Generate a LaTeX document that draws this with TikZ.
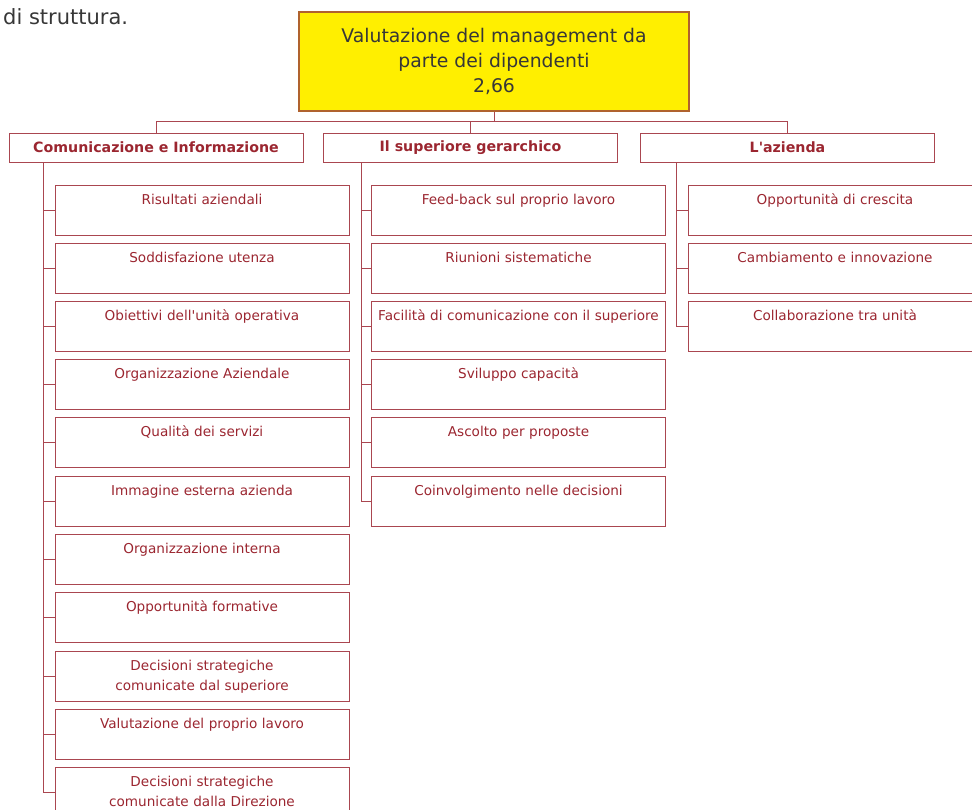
\documentclass[tikz,border=0pt]{standalone}
\usepackage{fontspec}
\setmainfont{DejaVu Sans}
\usepackage{xcolor}
\usetikzlibrary{positioning}

\definecolor{boxred}{RGB}{170,70,80}
\definecolor{textred}{RGB}{155,38,48}
\definecolor{rootfill}{RGB}{255,239,0}
\definecolor{rootline}{RGB}{176,98,46}
\definecolor{darktext}{RGB}{55,55,55}

\begin{document}
\begin{tikzpicture}[x=1pt, y=-1pt,
        root/.style={draw=rootline, line width=2pt, fill=rootfill, text=darktext, align=center,
            minimum width=390pt, minimum height=99pt, inner sep=0pt,
            font=\fontsize{18.8}{25}\selectfont},
        head/.style={draw=boxred, line width=0.9pt, text=textred, minimum width=294pt,
            minimum height=29pt, inner sep=0pt, font=\fontsize{14.2}{16}\selectfont\bfseries},
        item/.style={draw=boxred, line width=0.9pt, text=textred, align=center,
            text width=290pt, inner sep=2pt, text height=17pt, text depth=29pt,
            font=\fontsize{13.6}{20}\selectfont},
        link/.style={draw=boxred, line width=0.9pt}
    ]
        \useasboundingbox (0,0) rectangle (972,809);
        \clip (0,0) rectangle (972,809);

        % Text above
        \node[anchor=west, text=darktext, font=\fontsize{21}{24}\selectfont, inner sep=0pt] (intro) at (3,17) {di struttura.};

        % Root
        \node[root] (root) at (494,61.5) {Valutazione del management da\\parte dei dipendenti\\2,66};

        % Headers
        \node[head] (h1) at (156,147.5) {Comunicazione e Informazione};
        \node[head] (h2) at (470.5,147.5) {Il superiore gerarchico};
        \node[head] (h3) at (787.5,147.5) {L\textquotesingle azienda};

        \draw[link] (root.south) -- ++(0,9) -| (h1.north);
        \draw[link] (root.south) -- ++(0,9) -| (h2.north);
        \draw[link] (root.south) -- ++(0,9) -| (h3.north);

        % Comunicazione e Informazione
        \node[item] (a1) at (202,210) {Risultati aziendali};
        \node[item] (a2) at (202,268) {Soddisfazione utenza};
        \node[item] (a3) at (202,326) {Obiettivi dell\textquotesingle unità operativa};
        \node[item] (a4) at (202,384) {Organizzazione Aziendale};
        \node[item] (a5) at (202,442.5) {Qualità dei servizi};
        \node[item] (a6) at (202,501) {Immagine esterna azienda};
        \node[item] (a7) at (202,559) {Organizzazione interna};
        \node[item] (a8) at (202,617.5) {Opportunità formative};
        \node[item] (a9) at (202,676) {Decisioni strategiche\\comunicate dal superiore};
        \node[item] (a10) at (202,734) {Valutazione del proprio lavoro};
        \node[item] (a11) at (202,792) {Decisioni strategiche\\comunicate dalla Direzione};

        \draw[link] ([xshift=35pt]h1.south west) |- (a1.west);
        \draw[link] ([xshift=35pt]h1.south west) |- (a2.west);
        \draw[link] ([xshift=35pt]h1.south west) |- (a3.west);
        \draw[link] ([xshift=35pt]h1.south west) |- (a4.west);
        \draw[link] ([xshift=35pt]h1.south west) |- (a5.west);
        \draw[link] ([xshift=35pt]h1.south west) |- (a6.west);
        \draw[link] ([xshift=35pt]h1.south west) |- (a7.west);
        \draw[link] ([xshift=35pt]h1.south west) |- (a8.west);
        \draw[link] ([xshift=35pt]h1.south west) |- (a9.west);
        \draw[link] ([xshift=35pt]h1.south west) |- (a10.west);
        \draw[link] ([xshift=35pt]h1.south west) |- (a11.west);

        % Il superiore gerarchico
        \node[item] (b1) at (518.5,210) {Feed-back sul proprio lavoro};
        \node[item] (b2) at (518.5,268) {Riunioni sistematiche};
        \node[item] (b3) at (518.5,326) {Facilità di comunicazione con il superiore};
        \node[item] (b4) at (518.5,384) {Sviluppo capacità};
        \node[item] (b5) at (518.5,442.5) {Ascolto per proposte};
        \node[item] (b6) at (518.5,501) {Coinvolgimento nelle decisioni};

        \draw[link] ([xshift=38pt]h2.south west) |- (b1.west);
        \draw[link] ([xshift=38pt]h2.south west) |- (b2.west);
        \draw[link] ([xshift=38pt]h2.south west) |- (b3.west);
        \draw[link] ([xshift=38pt]h2.south west) |- (b4.west);
        \draw[link] ([xshift=38pt]h2.south west) |- (b5.west);
        \draw[link] ([xshift=38pt]h2.south west) |- (b6.west);

        % L'azienda
        \node[item] (c1) at (835,210) {Opportunità di crescita};
        \node[item] (c2) at (835,268) {Cambiamento e innovazione};
        \node[item] (c3) at (835,326) {Collaborazione tra unità};

        \draw[link] ([xshift=36pt]h3.south west) |- (c1.west);
        \draw[link] ([xshift=36pt]h3.south west) |- (c2.west);
        \draw[link] ([xshift=36pt]h3.south west) |- (c3.west);
    \end{tikzpicture}
\end{document}
